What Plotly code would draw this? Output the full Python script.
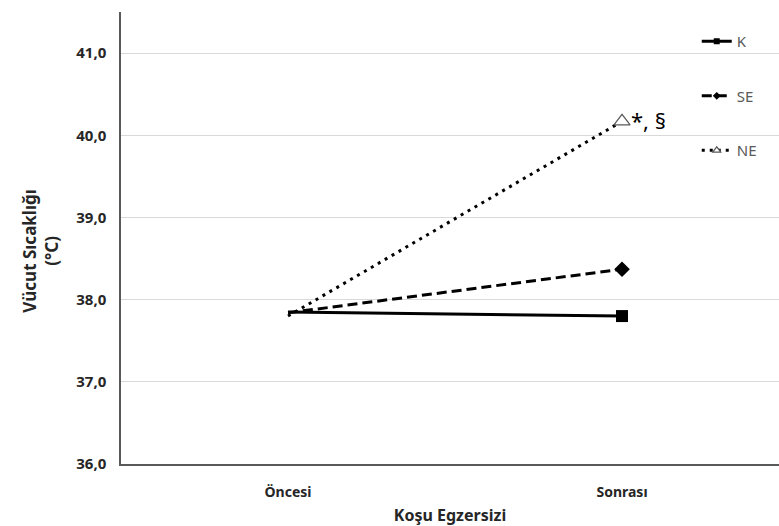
import plotly.graph_objects as go

# Body temperature before / after running exercise
phases = ["Öncesi", "Sonrası"]
k_vals = [37.85, 37.80]
se_vals = [37.84, 38.37]
ne_vals = [37.80, 40.17]
y_ticks = [36.0, 37.0, 38.0, 39.0, 40.0, 41.0]
y_tick_text = ["36,0", "37,0", "38,0", "39,0", "40,0", "41,0"]

FONT = "Noto Sans"
TXT = "#262626"

series = [
    ("K", k_vals, dict(color="black", width=3),
     dict(symbol="square", color="black", size=[0, 12], opacity=1, line=dict(width=0))),
    ("SE", se_vals, dict(color="black", width=3, dash="10px,5px"),
     dict(symbol="diamond", color="black", size=[0, 12], opacity=1, line=dict(width=0))),
    ("NE", ne_vals, dict(color="black", width=3, dash="3px,5px"),
     dict(symbol="triangle-up", color="white", size=[0, 14], opacity=1,
          line=dict(width=1.2, color="#595959"))),
]

fig = go.Figure()
for name, vals, line, marker in series:
    fig.add_trace(go.Scatter(
        x=[0, 1], y=vals, name=name, legendgroup=name,
        mode="lines+markers", line=line, marker=marker,
    ))

# significance marks next to the NE post-exercise value
fig.add_annotation(
    x=1, y=ne_vals[1], text="*, §", showarrow=False,
    xanchor="left", yanchor="middle", xshift=7, yshift=1,
    font=dict(family=FONT, size=22, color="black"),
)

# y-axis title
fig.add_annotation(
    xref="paper", yref="paper", x=-0.123, y=0.47,
    text="<b>Vücut Sıcaklığı<br>(°C)</b>", textangle=-90, showarrow=False,
    xanchor="center", yanchor="middle",
    font=dict(family=FONT, size=17, color=TXT),
)

fig.update_layout(
    width=779, height=526,
    margin=dict(l=121, r=0, t=12, b=62),
    paper_bgcolor="white", plot_bgcolor="white",
    font=dict(family=FONT, color=TXT),
    showlegend=True,
    legend=dict(
        x=0.875, y=0.971, xanchor="left", yanchor="top",
        font=dict(family=FONT, size=15, color="#595959"),
        tracegroupgap=32, bgcolor="rgba(0,0,0,0)",
        itemwidth=30,
    ),
    xaxis=dict(
        range=[-0.5, 1.47], tickmode="array", tickvals=[0, 1], ticktext=phases,
        showgrid=False, zeroline=False,
        showline=True, linecolor="#595959", linewidth=1.5,
        ticks="", ticklabelstandoff=14,
        tickfont=dict(family=FONT, size=14, color=TXT, weight="bold"),
        title=dict(text="<b>Koşu Egzersizi</b>", font=dict(family=FONT, size=16, color=TXT), standoff=10),
    ),
    yaxis=dict(
        range=[36.0, 41.5], tickmode="array", tickvals=y_ticks, ticktext=y_tick_text,
        showgrid=True, gridcolor="#d9d9d9", gridwidth=1, zeroline=False,
        showline=True, linecolor="#595959", linewidth=1.5,
        ticks="", ticklabelstandoff=10,
        tickfont=dict(family=FONT, size=15, color=TXT, weight="bold"),
    ),
)

fig.write_html("out.html")
